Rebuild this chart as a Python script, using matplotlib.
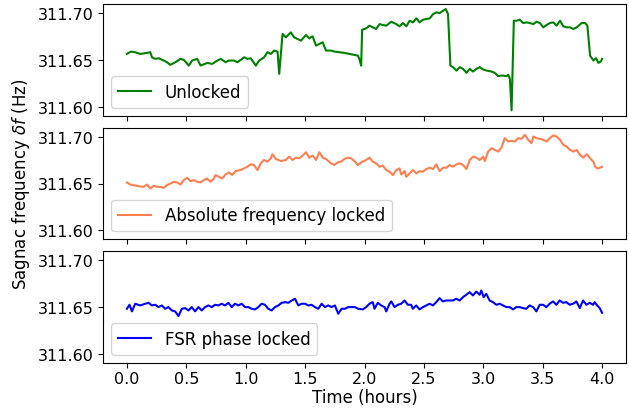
import matplotlib
matplotlib.use("Agg")
import matplotlib.pyplot as plt

# time (hours) and Sagnac frequency (Hz)
unlocked_t = [
    0.000, 0.034, 0.070, 0.113, 0.169, 0.197, 0.211, 0.239, 0.268, 0.310,
    0.338, 0.366, 0.408, 0.451, 0.479, 0.521, 0.549, 0.592, 0.620, 0.676,
    0.718, 0.761, 0.789, 0.831, 0.859, 0.901, 0.930, 0.958, 0.986, 1.014,
    1.042, 1.085, 1.113, 1.155, 1.183, 1.211, 1.239, 1.268, 1.282, 1.310,
    1.338, 1.380, 1.408, 1.465, 1.507, 1.535, 1.563, 1.592, 1.620, 1.648,
    1.676, 1.718, 1.746, 1.789, 1.831, 1.873, 1.915, 1.944, 1.958, 1.972,
    1.980, 2.014, 2.042, 2.070, 2.098, 2.127, 2.155, 2.183, 2.225, 2.267,
    2.295, 2.323, 2.352, 2.380, 2.408, 2.436, 2.464, 2.492, 2.520, 2.549,
    2.577, 2.605, 2.633, 2.661, 2.684, 2.703, 2.723, 2.745, 2.774, 2.802,
    2.830, 2.858, 2.886, 2.914, 2.942, 2.970, 2.999, 3.027, 3.069, 3.097,
    3.125, 3.153, 3.195, 3.210, 3.224, 3.238, 3.257, 3.280, 3.308, 3.336,
    3.364, 3.392, 3.421, 3.449, 3.477, 3.505, 3.533, 3.561, 3.589, 3.617,
    3.646, 3.674, 3.702, 3.730, 3.758, 3.786, 3.828, 3.857, 3.876, 3.899,
    3.927, 3.949, 3.969, 3.989, 4.000,
]
unlocked_f = [
    311.6564, 311.6589, 311.6582, 311.6564, 311.6575, 311.6582, 311.6528, 311.6511, 311.6518, 311.6493,
    311.6475, 311.6447, 311.6475, 311.6511, 311.6500, 311.6439, 311.6493, 311.6511, 311.6439, 311.6468,
    311.6457, 311.6493, 311.6511, 311.6475, 311.6493, 311.6493, 311.6475, 311.6500, 311.6528, 311.6511,
    311.6518, 311.6439, 311.6493, 311.6528, 311.6582, 311.6564, 311.6600, 311.6589, 311.6350, 311.6778,
    311.6742, 311.6795, 311.6742, 311.6706, 311.6767, 311.6731, 311.6753, 311.6653, 311.6671, 311.6689,
    311.6600, 311.6600, 311.6589, 311.6582, 311.6575, 311.6564, 311.6553, 311.6546, 311.6504, 311.6439,
    311.6824, 311.6838, 311.6867, 311.6849, 311.6831, 311.6884, 311.6874, 311.6867, 311.6909, 311.6884,
    311.6860, 311.6895, 311.6860, 311.6920, 311.6902, 311.6945, 311.6902, 311.6931, 311.6938, 311.6945,
    311.6991, 311.7009, 311.7002, 311.7027, 311.7045, 311.6991, 311.6439, 311.6422, 311.6386, 311.6422,
    311.6404, 311.6361, 311.6404, 311.6375, 311.6404, 311.6422, 311.6397, 311.6386, 311.6375, 311.6361,
    311.6326, 311.6333, 311.6326, 311.6340, 311.6297, 311.5959, 311.6920, 311.6920, 311.6931, 311.6895,
    311.6902, 311.6895, 311.6884, 311.6909, 311.6895, 311.6849, 311.6874, 311.6895, 311.6902, 311.6867,
    311.6920, 311.6860, 311.6849, 311.6849, 311.6831, 311.6849, 311.6895, 311.6895, 311.6867, 311.6546,
    311.6493, 311.6518, 311.6468, 311.6482, 311.6511,
]

abs_t = [
    0.000, 0.028, 0.056, 0.099, 0.141, 0.169, 0.197, 0.225, 0.254, 0.282,
    0.310, 0.338, 0.366, 0.394, 0.423, 0.451, 0.479, 0.507, 0.535, 0.563,
    0.592, 0.620, 0.648, 0.676, 0.704, 0.732, 0.746, 0.775, 0.803, 0.831,
    0.859, 0.887, 0.915, 0.958, 0.986, 1.014, 1.042, 1.070, 1.099, 1.127,
    1.155, 1.183, 1.211, 1.225, 1.254, 1.296, 1.338, 1.366, 1.394, 1.423,
    1.451, 1.479, 1.507, 1.535, 1.563, 1.592, 1.620, 1.648, 1.676, 1.718,
    1.746, 1.775, 1.803, 1.831, 1.859, 1.887, 1.915, 1.944, 1.972, 2.014,
    2.042, 2.070, 2.098, 2.127, 2.155, 2.183, 2.211, 2.239, 2.267, 2.295,
    2.309, 2.338, 2.352, 2.380, 2.408, 2.436, 2.464, 2.492, 2.520, 2.549,
    2.577, 2.605, 2.633, 2.661, 2.689, 2.717, 2.745, 2.774, 2.802, 2.830,
    2.858, 2.886, 2.914, 2.942, 2.970, 2.999, 3.013, 3.041, 3.069, 3.097,
    3.125, 3.153, 3.181, 3.210, 3.238, 3.266, 3.294, 3.322, 3.350, 3.378,
    3.406, 3.421, 3.449, 3.477, 3.505, 3.533, 3.561, 3.589, 3.617, 3.646,
    3.674, 3.702, 3.730, 3.758, 3.786, 3.814, 3.842, 3.871, 3.899, 3.927,
    3.941, 3.961, 3.983, 4.000,
]
abs_f = [
    311.6511, 311.6489, 311.6482, 311.6471, 311.6464, 311.6489, 311.6446, 311.6475, 311.6464, 311.6464,
    311.6453, 311.6482, 311.6500, 311.6518, 311.6511, 311.6489, 311.6536, 311.6561, 311.6525, 311.6536,
    311.6518, 311.6511, 311.6536, 311.6554, 311.6518, 311.6554, 311.6590, 311.6572, 311.6554, 311.6597,
    311.6619, 311.6590, 311.6633, 311.6644, 311.6662, 311.6680, 311.6705, 311.6698, 311.6644, 311.6716,
    311.6752, 311.6734, 311.6770, 311.6813, 311.6763, 311.6741, 311.6752, 311.6788, 311.6752, 311.6777,
    311.6770, 311.6799, 311.6835, 311.6777, 311.6799, 311.6752, 311.6835, 311.6777, 311.6763, 311.6716,
    311.6698, 311.6727, 311.6734, 311.6763, 311.6777, 311.6770, 311.6741, 311.6698, 311.6727, 311.6752,
    311.6777, 311.6734, 311.6716, 311.6680, 311.6691, 311.6644, 311.6626, 311.6590, 311.6644, 311.6662,
    311.6597, 311.6633, 311.6572, 311.6608, 311.6644, 311.6608, 311.6633, 311.6626, 311.6655, 311.6669,
    311.6655, 311.6705, 311.6633, 311.6669, 311.6669, 311.6698, 311.6680, 311.6705, 311.6716, 311.6698,
    311.6655, 311.6752, 311.6788, 311.6777, 311.6752, 311.6788, 311.6741, 311.6842, 311.6878, 311.6860,
    311.6842, 311.6885, 311.6986, 311.6950, 311.6957, 311.6950, 311.6986, 311.6979, 311.7022, 311.6968,
    311.6932, 311.7004, 311.6986, 311.6979, 311.6968, 311.6950, 311.6986, 311.7015, 311.7004, 311.6968,
    311.6914, 311.6896, 311.6860, 311.6842, 311.6860, 311.6806, 311.6777, 311.6813, 311.6770, 311.6734,
    311.6680, 311.6662, 311.6669, 311.6680,
]

fsr_t = [
    0.000, 0.022, 0.042, 0.070, 0.112, 0.154, 0.182, 0.210, 0.238, 0.266,
    0.294, 0.322, 0.350, 0.378, 0.406, 0.434, 0.462, 0.490, 0.518, 0.546,
    0.574, 0.602, 0.630, 0.658, 0.686, 0.714, 0.742, 0.770, 0.798, 0.826,
    0.854, 0.882, 0.910, 0.938, 0.966, 0.994, 1.022, 1.050, 1.078, 1.106,
    1.134, 1.162, 1.190, 1.218, 1.246, 1.275, 1.303, 1.331, 1.359, 1.387,
    1.415, 1.443, 1.471, 1.499, 1.527, 1.555, 1.583, 1.611, 1.639, 1.667,
    1.695, 1.723, 1.751, 1.779, 1.807, 1.835, 1.863, 1.891, 1.919, 1.947,
    1.986, 2.014, 2.042, 2.070, 2.084, 2.112, 2.140, 2.169, 2.183, 2.211,
    2.225, 2.253, 2.281, 2.309, 2.337, 2.365, 2.393, 2.407, 2.435, 2.463,
    2.492, 2.520, 2.548, 2.576, 2.604, 2.632, 2.660, 2.688, 2.716, 2.744,
    2.772, 2.801, 2.829, 2.857, 2.885, 2.913, 2.941, 2.969, 2.983, 3.003,
    3.025, 3.053, 3.081, 3.110, 3.138, 3.166, 3.194, 3.222, 3.250, 3.278,
    3.306, 3.334, 3.362, 3.390, 3.419, 3.447, 3.475, 3.503, 3.531, 3.559,
    3.587, 3.615, 3.643, 3.671, 3.699, 3.728, 3.756, 3.784, 3.812, 3.840,
    3.868, 3.896, 3.924, 3.938, 3.958, 3.980, 4.000,
]
fsr_f = [
    311.6482, 311.6525, 311.6454, 311.6536, 311.6518, 311.6536, 311.6546, 311.6518, 311.6525, 311.6500,
    311.6518, 311.6482, 311.6500, 311.6464, 311.6454, 311.6404, 311.6482, 311.6489, 311.6464, 311.6500,
    311.6454, 311.6500, 311.6464, 311.6500, 311.6518, 311.6500, 311.6525, 311.6518, 311.6536, 311.6518,
    311.6546, 311.6500, 311.6536, 311.6518, 311.6536, 311.6500, 311.6500, 311.6482, 311.6475, 311.6500,
    311.6536, 311.6525, 311.6482, 311.6464, 311.6500, 311.6518, 311.6546, 311.6553, 311.6546, 311.6571,
    311.6589, 311.6518, 311.6536, 311.6536, 311.6518, 311.6525, 311.6500, 311.6482, 311.6536, 311.6500,
    311.6518, 311.6500, 311.6518, 311.6429, 311.6482, 311.6482, 311.6500, 311.6500, 311.6500, 311.6482,
    311.6475, 311.6500, 311.6536, 311.6553, 311.6482, 311.6546, 311.6518, 311.6500, 311.6454, 311.6536,
    311.6561, 311.6500, 311.6525, 311.6536, 311.6571, 311.6525, 311.6525, 311.6482, 311.6518, 311.6475,
    311.6500, 311.6518, 311.6536, 311.6518, 311.6553, 311.6596, 311.6561, 311.6571, 311.6571, 311.6571,
    311.6589, 311.6571, 311.6607, 311.6632, 311.6660, 311.6625, 311.6667, 311.6632, 311.6678, 311.6607,
    311.6642, 311.6571, 311.6553, 311.6525, 311.6536, 311.6518, 311.6500, 311.6500, 311.6475, 311.6500,
    311.6500, 311.6489, 311.6482, 311.6518, 311.6500, 311.6454, 311.6525, 311.6525, 311.6500, 311.6536,
    311.6561, 311.6525, 311.6571, 311.6546, 311.6553, 311.6525, 311.6536, 311.6561, 311.6489, 311.6571,
    311.6525, 311.6546, 311.6525, 311.6553, 311.6518, 311.6489, 311.6439,
]

series = [
    (unlocked_t, unlocked_f, "green", "Unlocked"),
    (abs_t, abs_f, "coral", "Absolute frequency locked"),
    (fsr_t, fsr_f, "blue", "FSR phase locked"),
]

plt.rcParams["font.size"] = 12
plt.rcParams["xtick.labelsize"] = 11.5
plt.rcParams["ytick.labelsize"] = 11.5

fig, axes = plt.subplots(3, 1, figsize=(6.29, 4.10), dpi=100, sharex=True, sharey=True)
fig.subplots_adjust(left=0.164, right=0.995, top=0.988, bottom=0.112, hspace=0.104)

for ax, (t, f, color, label) in zip(axes, series):
    ax.plot(t, f, color=color, linewidth=1.5, label=label)
    ax.legend(loc="lower left")

axes[0].set_ylim(311.59, 311.71)
axes[0].set_yticks([311.60, 311.65, 311.70])
axes[0].set_yticklabels(["311.60", "311.65", "311.70"])
axes[2].set_xticks([0.0, 0.5, 1.0, 1.5, 2.0, 2.5, 3.0, 3.5, 4.0])
axes[2].tick_params(axis="x", pad=2.5)
axes[2].set_xlabel("Time (hours)", labelpad=1)
axes[1].set_ylabel(r"Sagnac frequency $\delta f$ (Hz)")

fig.savefig("out.png", dpi=100)
